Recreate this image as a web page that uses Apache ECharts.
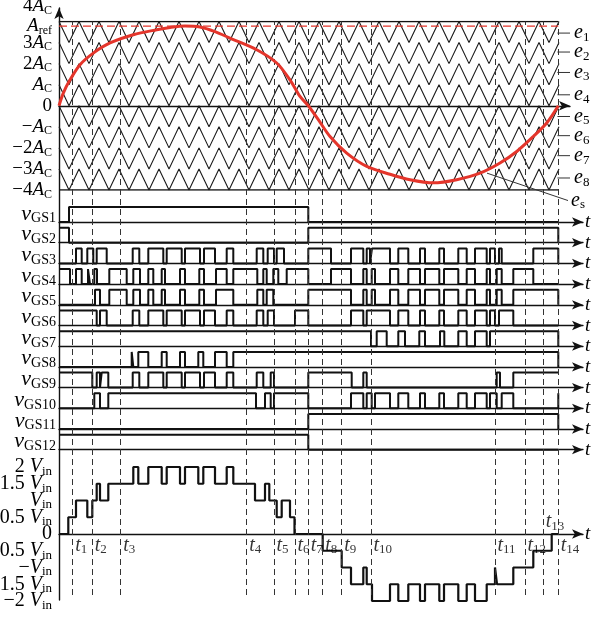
<!DOCTYPE html>
<html>
<head>
<meta charset="utf-8">
<script src="https://cdn.jsdelivr.net/npm/echarts@6/dist/echarts.min.js"></script>
<style>html,body{margin:0;padding:0;background:#fff}#chart{width:593px;height:618px}</style>
</head>
<body>
<div id="chart"></div>
<script>
// ---- time base: one reference period spans 0 … 499.3 ----
const periodEnd = 499.3;

// switching instants t1 … t14
const tMarks = [13.7, 33.3, 61.7, 187.7, 215, 236, 249.3, 263.7, 282.7, 312, 436, 466, 484.3, 499.3];

// level-shifted triangular carriers e1 … e8 (band limits in units of A_C)
const carrierNames = ['1', '2', '3', '4', '5', '6', '7', '8'];
const carrierTop = [4, 3, 2, 1, 0, -1, -2, -3];
const carrierBottom = [3, 2, 1, 0, -1, -2, -3, -4];
const carrierVertexTimes = [0, 10, 20, 30, 40, 50, 60, 70, 80, 90, 100, 110, 120, 130, 140, 150, 160, 170, 180, 190,
  200, 210, 220, 230, 240, 250, 260, 270, 280, 290, 300, 310, 320, 330, 340, 350, 360, 370, 380, 390,
  400, 410, 420, 430, 440, 450, 460, 470, 480, 490, 500];
const carrierLabelLevel = [3.45, 2.55, 1.58, 0.52, -0.51, -1.42, -2.37, -3.43];

// reference e_s (units of A_C)
const refTimes = [0, 4.3, 11, 21, 34.3, 51, 74.3, 97.7, 111, 126, 141, 156, 171, 197.7, 217.7, 231, 241, 249.3,
  259.3, 271, 287.7, 307.7, 331, 351, 374.3, 397.7, 421, 441, 457.7, 474.3, 487.7, 499.3];
const refValues = [0, 0.6, 1.23, 1.95, 2.5, 2.98, 3.37, 3.61, 3.72, 3.79, 3.74, 3.52, 3.21, 2.66, 2.03, 1.23, 0.44, 0,
  -0.66, -1.46, -2.25, -2.88, -3.25, -3.51, -3.66, -3.51, -3.2, -2.72, -2.17, -1.46, -0.82, 0];
const aRef = 3.78;

// axis tick values
const carrierTicksA = [-4, -2, 0, 2, aRef];
const carrierTicksB = [-3, -1, 1, 3];
const outTicksA = [-2, -1, 0, 1, 2];
const outTicksB = [-1.5, -0.5, 0.5, 1.5];

// gate signals: initial state and switching instants
const gateStart = [0, 1, 0, 1, 0, 1, 1, 0, 1, 0, 0, 1];
const gs1 = [10, 249.3];
const gs2 = [10, 249.3, 499.3];
const gs3 = [17, 22.7, 28.3, 34.3, 37.7, 47.7, 73.7, 80.3, 89.3, 104.3, 107.7, 122.7, 126, 141, 145, 156, 167.7, 174.3,
  197.7, 204.3, 208.7, 215, 217.7, 225, 249.3, 272, 292, 304.3, 307.7, 311, 313, 331, 339.3, 349.3, 361, 366,
  380.3, 385, 399.3, 407.7, 416, 427.7, 431, 436, 440, 442.7, 474.3, 499.3];
const gs4 = [11, 17, 22.7, 29, 31, 35.3, 38, 50.3, 67.7, 74.3, 81, 89.3, 94.3, 102.7, 106, 121, 126, 140.3, 145, 157, 167.7,
  174.3, 198.3, 204.3, 207.7, 214.3, 219.3, 227.7, 249.3, 272, 292, 304.3, 307.7, 312.7, 316, 331, 339.3, 349.3, 361,
  366, 380.3, 385, 399.3, 407.7, 416, 427.7, 431, 437.7, 442.7, 454.3, 474.3];
const gs5 = [36, 41, 50.3, 67.7, 74.3, 81, 89.3, 94.3, 102.7, 106, 121, 126, 140.3, 145, 157, 174.3, 198.3, 204.3, 207.7,
  214.3, 249.3, 292, 304.3, 307.7, 312.7, 316, 331, 339.3, 349.3, 361, 366, 380.3, 385, 399.3, 407.7, 416, 427.7, 431,
  437.7, 442.7, 454.3, 499.3];
const gs6 = [37.7, 41, 47.7, 73.7, 80.3, 89.3, 104.3, 107.7, 122.7, 126, 141, 145, 156, 167.7, 174.3, 197.7, 204.3,
  208.7, 215, 236, 249.3, 292, 304.3, 307.7, 331, 339.3, 349.3, 361, 366, 380.3, 385, 399.3, 407.7, 416, 427.7, 431,
  436, 440, 454.3];
const gs7 = [312, 317.7, 327.7, 339.3, 346, 360.3, 366, 381, 385.3, 399.3, 407.7, 416, 427.7, 431, 499.3];
const gs8 = [72.7, 74.3, 79.3, 89.3, 102.7, 107.7, 121, 126, 139.3, 144.3, 156, 167.7, 174.3, 499.3];
const gs9 = [33.3, 37.7, 41, 42.7, 49.3, 73.7, 80.3, 89.3, 104.3, 107.7, 122.7, 126, 141, 145, 156, 167.7, 174.3,
  197.7, 204.3, 211.7, 215, 249.3, 292.7, 304.3, 307.7, 437.7, 441, 454.3];
const gs10 = [35.3, 41, 49.3, 197, 206, 211.7, 215, 249.3, 292, 304.3, 307.7, 312.7, 316, 331, 339.3, 349.3, 361, 366,
  380.3, 385, 399.3, 407.7, 416, 427.7, 431, 437.7, 442.7, 454.3, 499.3];
const gs11 = [249.3, 499.3];
const gs12 = [249.3];
const gateEdges = [gs1, gs2, gs3, gs4, gs5, gs6, gs7, gs8, gs9, gs10, gs11, gs12];

// output voltage (units of V_in): switching instants and level reached
const outEdges = [9.3, 17, 28.3, 33.3, 37.7, 41, 49.3, 74.3, 79.3, 89.3, 102.7, 107.7, 121, 126, 139.3, 144.3, 156,
  167.7, 174.3, 196, 206, 210.3, 217.7, 222.7, 231, 235.5, 263.7, 282.7, 292, 304.3, 307.7, 313, 331, 339.3, 349.3,
  361, 366, 380.3, 385, 399.3, 407.7, 416, 427.7, 436, 438, 454.3, 474.3, 492.7];
const outLevels = [0.5, 1, 0.5, 1, 1.5, 1, 1.5, 2, 1.5, 2, 1.5, 2, 1.5, 2, 1.5, 2, 1.5, 2, 1.5, 1, 1.5, 1, 0.5, 1, 0.5, 0,
  -0.5, -1, -1.5, -1, -1.5, -2, -1.5, -2, -1.5, -2, -1.5, -2, -1.5, -2, -1.5, -2, -1.5, -1, -1.5, -1, -0.5, 0];

// ---- drawing ----
const serif = 'Liberation Serif';
const ink = '#111';
const red = '#e4352b';

function richSet(big, small, drop) {
  return {
    n: { fontFamily: serif, fontSize: big, color: '#000' },
    i: { fontFamily: serif, fontStyle: 'italic', fontSize: big, color: '#000' },
    s: { fontFamily: serif, fontSize: small, color: '#000', padding: [drop, 0, 0, 0] }
  };
}
function stepPoints(start, edges, end) {
  const pts = [[0, start]];
  let lv = start;
  edges.forEach(e => { pts.push([e, lv]); lv = 1 - lv; pts.push([e, lv]); });
  pts.push([end, lv]);
  return pts;
}
function levelPoints(edges, levels, end) {
  const pts = [[0, 0]];
  let lv = 0;
  edges.forEach((e, i) => { pts.push([e, lv]); lv = levels[i]; pts.push([e, lv]); });
  pts.push([end, lv]);
  return pts;
}
function acText(v) {
  if (v === aRef) return '{i|A}{s|ref}';
  if (v === 0) return '{n|0}';
  const coef = v === 1 ? '' : v === -1 ? '−' : (v < 0 ? '−' + (-v) : String(v));
  return (coef ? '{n|' + coef + '}' : '') + '{i|A}{s|C}';
}
function vinText(v) {
  if (v === 0) return '{n|0}';
  const a = Math.abs(v);
  const coef = (v < 0 ? '−' : '') + (a === 1 ? '' : String(a) + ' ');
  return (coef ? '{n|' + coef + '}' : '') + '{i|V}{s|in}';
}

const L = 59;              // left edge of every plot area
const gateBase0 = 222, gateStep = 20.7, gateHigh = 15;
const grids = [], xAxes = [], yAxes = [], series = [];
const arrow = { symbol: ['none', 'arrow'], symbolSize: [7, 11] };
const noAxisParts = { axisTick: { show: false }, splitLine: { show: false } };
function addGrid(top, width, height) {
  grids.push({ left: L, top, width, height, outerBoundsMode: 'none', containLabel: false });
  return grids.length - 1;
}
function labelAxis(gridIndex, min, max, values, rich, fmt, margin) {
  return { gridIndex, type: 'value', position: 'left', offset: 0, min, max, axisLine: { show: false }, ...noAxisParts,
    axisLabel: { show: true, margin, hideOverlap: false, showMinLabel: true, showMaxLabel: true,
      customValues: values, rich, formatter: fmt } };
}

// the long vertical axis
const g0 = addGrid(8, 524, 592);
xAxes.push({ gridIndex: g0, type: 'value', min: 0, max: 524, show: false });
yAxes.push({ gridIndex: g0, type: 'value', min: 0, max: 1, ...noAxisParts, axisLabel: { show: false },
  axisLine: { show: true, onZero: false, ...arrow, lineStyle: { color: ink, width: 1.4 } } });

// dashed guides at t1 … t14
const g1 = addGrid(21.5, 524, 573.5);
xAxes.push({ gridIndex: g1, type: 'value', min: 0, max: 524, show: false });
yAxes.push({ gridIndex: g1, type: 'value', min: 0, max: 1, show: false });
series.push({ type: 'line', xAxisIndex: 1, yAxisIndex: 1, data: [], symbol: 'none', silent: true,
  markLine: { silent: true, symbol: 'none', label: { show: false },
    lineStyle: { type: [6, 4], color: '#333', width: 1 },
    data: tMarks.map(t => ({ xAxis: t })) } });

// carriers and reference
const cRich = richSet(19, 12, 9);
const g2 = addGrid(21.5, 511, 168.5);
const cx = xAxes.length;
xAxes.push({ gridIndex: g2, type: 'value', min: 0, max: 511, ...noAxisParts, axisLabel: { show: false },
  axisLine: { show: true, onZero: true, ...arrow, lineStyle: { color: ink, width: 1.4 } } });
const cy = yAxes.length;
yAxes.push(Object.assign(labelAxis(g2, -4, 4, carrierTicksA, cRich, acText, 7), {
  name: '{n|4}{i|A}{s|C}', nameLocation: 'end', nameGap: 2,
  nameTextStyle: { align: 'right', padding: [0, 7, 0, 0], rich: cRich } }));
yAxes.push(labelAxis(g2, -4, 4, carrierTicksB, cRich, acText, 7));

const onC = { xAxisIndex: cx, yAxisIndex: cy, type: 'line', symbol: 'none', silent: true };
series.push({ ...onC, data: [[0, 4], [periodEnd, 4]], lineStyle: { color: ink, width: 1.5 } });
series.push({ ...onC, data: [[0, -4], [periodEnd, -4]], lineStyle: { color: ink, width: 1.5 } });
series.push({ ...onC, data: [[0, aRef], [periodEnd, aRef]], z: 4, lineStyle: { color: red, width: 1.2, type: [8, 4] } });
carrierNames.forEach((nm, k) => {
  series.push({ ...onC, z: 3, lineStyle: { color: '#1a1a1a', width: 1.1 },
    data: carrierVertexTimes.map((t, j) => [t, j % 2 === 0 ? carrierTop[k] : carrierBottom[k]]) });
  series.push({ ...onC, clip: false, lineStyle: { color: '#333', width: 1 },
    data: [[498.4, carrierLabelLevel[k]], [511, carrierLabelLevel[k]]],
    endLabel: { show: true, distance: 4, formatter: '{i|e}{s|' + nm + '}', rich: richSet(20, 13, 9) } });
});
series.push({ ...onC, clip: false, lineStyle: { color: '#333', width: 1 }, data: [[428, -3.2], [509, -4.5]],
  endLabel: { show: true, distance: 3, formatter: '{i|e}{s|s}', rich: richSet(20, 13, 9) } });
series.push({ ...onC, smooth: 0.3, z: 5, lineStyle: { color: red, width: 3 },
  data: refTimes.map((t, i) => [t, refValues[i]]) });

// gate signals, one strip each
const gRich = richSet(22, 14, 10);
gateEdges.forEach((edges, k) => {
  const base = gateBase0 + gateStep * k;
  const gi = addGrid(base - gateHigh, 524, gateHigh);
  const xi = xAxes.length, yi = yAxes.length;
  xAxes.push({ gridIndex: gi, type: 'value', min: 0, max: 524, position: 'bottom', ...noAxisParts, axisLabel: { show: false },
    name: 't', nameLocation: 'end', nameGap: 2,
    nameTextStyle: { fontFamily: serif, fontStyle: 'italic', fontSize: 19, color: '#000' },
    axisLine: { show: true, onZero: false, ...arrow, lineStyle: { color: ink, width: 1.3 } } });
  yAxes.push(labelAxis(gi, 0, 1, [0.55], gRich, () => '{i|v}{s|GS' + (k + 1) + '}', 3));
  series.push({ type: 'line', xAxisIndex: xi, yAxisIndex: yi, symbol: 'none', silent: true, clip: false,
    lineStyle: { color: ink, width: 2 }, data: stepPoints(gateStart[k], edges, periodEnd) });
});

// output voltage
const oRich = richSet(20, 13, 9);
const og = addGrid(467, 524, 134);
const ox = xAxes.length, oy = yAxes.length;
xAxes.push({ gridIndex: og, type: 'value', min: 0, max: 524, ...noAxisParts, axisLabel: { show: false },
  name: 't', nameLocation: 'end', nameGap: 2,
  nameTextStyle: { fontFamily: serif, fontStyle: 'italic', fontSize: 19, color: '#000' },
  axisLine: { show: true, onZero: true, ...arrow, lineStyle: { color: ink, width: 1.4 } } });
yAxes.push(labelAxis(og, -2, 2, outTicksA, oRich, vinText, 7));
yAxes.push(labelAxis(og, -2, 2, outTicksB, oRich, vinText, 7));
series.push({ type: 'line', xAxisIndex: ox, yAxisIndex: oy, symbol: 'none', silent: true, clip: false,
  lineStyle: { color: ink, width: 2.2 }, data: levelPoints(outEdges, outLevels, periodEnd) });
// t1 … t14 labels
series.push({ type: 'scatter', xAxisIndex: ox, yAxisIndex: oy, symbol: 'circle', symbolSize: 1, silent: true, z: 6,
  itemStyle: { color: 'rgba(255,255,255,0)' },
  data: tMarks.map((t, i) => [t, i === 12 ? 0.36 : -0.34]),
  label: { show: true, position: 'right', distance: 2, color: '#000', rich: richSet(20, 13, 9),
    formatter: p => '{i|t}{s|' + (p.dataIndex + 1) + '}' },
  labelLayout: { hideOverlap: false } });

const chart = echarts.init(document.getElementById('chart'), null, { renderer: 'canvas', width: 593, height: 618 });
chart.setOption({ animation: false, backgroundColor: '#fff', grid: grids, xAxis: xAxes, yAxis: yAxes, series: series });
</script>
</body>
</html>
